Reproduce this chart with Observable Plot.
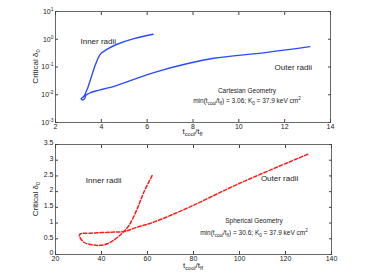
<!DOCTYPE html>
<html><head><meta charset="utf-8">
<script src="https://cdn.jsdelivr.net/npm/d3@7"></script>
<script src="https://cdn.jsdelivr.net/npm/@observablehq/plot@0.6"></script>
<style>
body{margin:0;background:#fff;font-family:"Liberation Sans",Arial,sans-serif;}
#chart{width:376px;height:275px;position:relative;}
#chart svg{display:block;overflow:visible;}
</style></head><body><div id="chart"></div>
<script>
// Top panel: Cartesian geometry (path from inner radii to outer radii)
const cartX = [6.26,5.42,4.69,4.26,3.96,3.75,3.53,3.41,3.33,3.27,3.2,3.12,3.15,3.24,3.29,3.31,3.4,3.53,4.62,5.42,6.29,7.82,8.9,11.15,13.1];
const cartY = [1.51,1.05,0.66,0.44,0.29,0.125,0.036,0.018,0.0125,0.0095,0.0082,0.0072,0.0066,0.0068,0.0078,0.0092,0.0105,0.012,0.021,0.036,0.063,0.136,0.206,0.33,0.54];
// Bottom panel: Spherical geometry
const sphX = [62,58.4,55.5,51.9,49,46.1,42.5,38.8,35.2,32.3,30.4,30.9,35.2,43.9,49.7,55.5,62.7,78,99.6,130];
const sphY = [2.51,1.98,1.45,0.92,0.68,0.5,0.34,0.29,0.32,0.39,0.6,0.66,0.68,0.71,0.73,0.87,1.03,1.5,2.25,3.2];

const topXTicks = [2,4,6,8,10,12,14];
const topYTicks = [1e-3,1e-2,1e-1,1e0,1e1];
const botXTicks = [20,40,60,80,100,120,140];
const botYTicks = [0,0.5,1,1.5,2,2.5,3,3.5];

const labels = {
  inner: "Inner radii", outer: "Outer radii",
  cart: "Cartesian Geometry", sph: "Spherical Geometry",
  cartMin: "3.06", sphMin: "30.6", k0: "37.9"
};
const topNotes = [{x: 3.09, y: 0.82, t: labels.inner}, {x: 11.56, y: 0.1, t: labels.outer}];
const botNotes = [{x: 33.2, y: 2.35, t: labels.inner}, {x: 109.3, y: 2.43, t: labels.outer}];

const FONT = "'Liberation Sans', Arial, sans-serif";
const INK = "#222";

const cart = cartX.map((x, i) => ({x, y: cartY[i]}));
const sph = sphX.map((x, i) => ({x, y: sphY[i]}));

function axes(xt, yt, yfmt, ydy) {
  return [
    Plot.frame({stroke: "#444", strokeWidth: 0.8}),
    Plot.axisX({ticks: xt, tickSize: -3, tickPadding: 5, stroke: "#444", fill: INK}),
    Plot.axisX({anchor: "top", ticks: xt, tickSize: -3, tickFormat: () => "", stroke: "#444"}),
    Plot.axisY({ticks: yt, tickSize: -3, tickFormat: () => "", stroke: "#444"}),
    Plot.axisY({ticks: yt, tickSize: 0, tickPadding: 2, tickFormat: yfmt, fill: INK, dy: ydy}),
    Plot.axisY({anchor: "right", ticks: yt, tickSize: -3, tickFormat: () => "", stroke: "#444"})
  ];
}

const topPlot = Plot.plot({
  width: 376, height: 140,
  marginLeft: 55, marginRight: 46, marginTop: 11, marginBottom: 18,
  style: {fontFamily: FONT, fontSize: "7px", background: "white", overflow: "visible"},
  x: {domain: [2, 14], label: null},
  y: {type: "log", domain: [1e-3, 1e1], label: null},
  marks: [
    ...axes(topXTicks, topYTicks, d => "10^" + Math.round(Math.log10(d)), 0),
    Plot.line(cart, {x: "x", y: "y", stroke: "#2a4bff", strokeWidth: 1.4, curve: "catmull-rom"}),
    Plot.text(topNotes, {x: "x", y: "y", text: "t", textAnchor: "start", fontSize: 8, fill: INK})
  ]
});

const botPlot = Plot.plot({
  width: 376, height: 135,
  marginLeft: 55, marginRight: 45, marginTop: 4, marginBottom: 21,
  style: {fontFamily: FONT, fontSize: "7px", background: "white", overflow: "visible"},
  x: {domain: [20, 140], label: null},
  y: {domain: [0, 3.5], label: null},
  marks: [
    ...axes(botXTicks, botYTicks, d => String(d), -1.5),
    Plot.line(sph, {x: "x", y: "y", stroke: "#ff1a1a", strokeWidth: 1.5, strokeDasharray: "3.5,2", curve: "catmull-rom"}),
    Plot.text(botNotes, {x: "x", y: "y", text: "t", textAnchor: "start", fontSize: 8, fill: INK})
  ]
});

const root = document.getElementById("chart");
root.append(topPlot);
root.append(botPlot);

// superscript log tick labels
d3.select(topPlot).selectAll("g[aria-label='y-axis tick label'] text").each(function() {
  const s = this.textContent;
  if (!s.startsWith("10^")) return;
  const e = s.slice(3);
  const t = d3.select(this);
  t.text("10");
  t.append("tspan").attr("dy", -3).attr("font-size", 5).text(e);
});

function rich(svgEl, x, y, parts, opts = {}) {
  const t = d3.select(svgEl).append("text")
    .attr("x", x).attr("y", y)
    .attr("text-anchor", opts.anchor || "middle")
    .attr("font-size", opts.size || 7)
    .attr("font-family", FONT)
    .attr("fill", INK);
  if (opts.rotate) t.attr("transform", `rotate(-90 ${x} ${y})`);
  let shift = 0;
  for (const [txt, kind] of parts) {
    const target = kind === "sub" ? 2 : kind === "sup" ? -3 : 0;
    const sp = t.append("tspan").attr("dy", target - shift).text(txt);
    if (kind) sp.attr("font-size", (opts.size || 7) * 0.7);
    shift = target;
  }
  return t;
}

function decorate(plot, minVal, geomLabel, cx, cy1, cy2, labelGap) {
  const sx = plot.scale("x"), sy = plot.scale("y");
  const xr = sx.range, yr = sy.range;
  const midX = (xr[0] + xr[1]) / 2;
  const midY = (yr[0] + yr[1]) / 2;
  // x label
  rich(plot, midX, yr[0] + labelGap, [["t", null], ["cool", "sub"], ["/t", null], ["ff", "sub"]], {size: 8});
  // y label
  rich(plot, 38, midY, [["Critical δ", null], ["0", "sub"]], {size: 8, rotate: true});
  // geometry notes
  rich(plot, cx, cy1, [[geomLabel, null]], {size: 6.5});
  rich(plot, cx, cy2, [["min(t", null], ["cool", "sub"], ["/t", null], ["ff", "sub"], [") = " + minVal + "; K", null], ["0", "sub"], [" = " + labels.k0 + " keV cm", null], ["2", "sup"]], {size: 6.5});
}
decorate(topPlot, labels.cartMin, labels.cart, 247, 93, 103, 12);
decorate(botPlot, labels.sphMin, labels.sph, 254, 83, 95, 14);
</script></body></html>
